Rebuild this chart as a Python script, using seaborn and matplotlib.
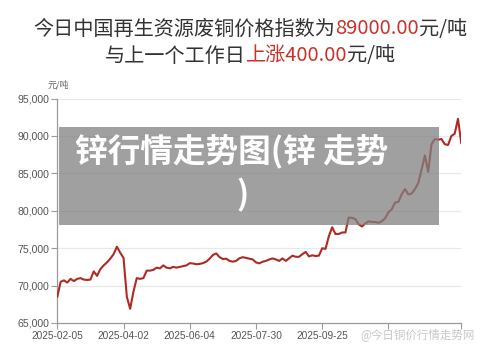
import matplotlib
matplotlib.use("Agg")
import matplotlib.pyplot as plt
import seaborn as sns
import pandas as pd
from matplotlib.patches import Rectangle

# ---- data ----
values = [
    68500, 70500, 70700, 70400, 70900, 70600, 70900, 71000, 70800, 70750,
    70800, 71900, 71300, 72200, 72700, 73100, 73600, 74200, 75200, 74400,
    73700, 68500, 66900, 69200, 71000, 70900, 71000, 72000, 72000, 72100,
    72400, 72300, 72700, 72400, 72300, 72500, 72400, 72500, 72600, 72700,
    73000, 72950, 72850, 72900, 73000, 73200, 73600, 74100, 74300, 73800,
    73550, 73600, 73300, 73200, 73300, 73650, 73800, 73700, 73600, 73500,
    73100, 72970, 73190, 73300, 73500, 73630, 73500, 73300, 73630, 73300,
    73650, 74000, 73850, 73850, 74200, 74500, 73900, 74050, 73950, 74000,
    75000, 74900, 76600, 77800, 76900, 76900, 77100, 77100, 79100, 79050,
    78900, 78200, 77900, 78300, 78600, 78500, 78500, 78400, 78600, 79000,
    79800, 80200, 81100, 81200, 82200, 82900, 82200, 82300, 82900, 83700,
    85500, 87400, 85200, 88900, 89600, 89500, 89600, 88900, 88800, 90000,
    90300, 92300, 89000,
]
tick_index = [0, 20, 40, 60, 80, 100, 122]
tick_labels = ["2025-02-05", "2025-04-02", "2025-06-04", "2025-07-30", "2025-09-25", "", ""]
y_ticks = [65000, 70000, 75000, 80000, 85000, 90000, 95000]

title1_parts = [("今日中国再生资源废铜价格指数为", "#333333"), ("89000.00", "#c8332b"), ("元/吨", "#333333")]
title2_parts = [("与上一个工作日", "#333333"), ("上涨400.00", "#c8332b"), ("元/吨", "#333333")]
overlay_line1 = "锌行情走势图(锌 走势"
overlay_line2 = ")"
unit_label = "元/吨"
watermark = "@今日铜价行情走势网"

sns.set_theme(style="white")
plt.rcParams['font.family'] = ['Liberation Sans', 'Noto Sans CJK SC', 'DejaVu Sans']

df = pd.DataFrame({"idx": list(range(len(values))), "price": values})

fig = plt.figure(figsize=(5.0, 3.52), dpi=100)
fig.patch.set_facecolor("white")
ax = fig.add_axes([0.1146, 0.0824, 0.808, 0.6375])
ax.set_facecolor("white")

for yv in y_ticks[1:]:
    ax.axhline(yv, color="#e8e8e8", lw=0.9, zorder=0)

sns.lineplot(data=df, x="idx", y="price", ax=ax, color="#b02a24", lw=1.5, zorder=3)

ax.set_xlim(0, len(values) - 1)
ax.set_ylim(65000, 95000)
ax.set_yticks(y_ticks)
ax.set_yticklabels([f"{v:,}" for v in y_ticks], fontsize=7.6, color="#555555")
ax.set_xticks(tick_index)
ax.set_xticklabels(tick_labels, fontsize=7.3, color="#555555")
ax.set_xlabel("")
ax.set_ylabel("")
for s in ["top", "right"]:
    ax.spines[s].set_visible(False)
ax.spines["left"].set_color("#9a9a9a")
ax.spines["bottom"].set_color("#9a9a9a")
ax.spines["left"].set_linewidth(0.9)
ax.spines["bottom"].set_linewidth(0.9)
ax.tick_params(axis="both", length=4, width=0.8, color="#9a9a9a", pad=2, direction="out",
               bottom=True, left=True)

# overlay box (figure pixel coords -> fraction)
W, H = 500.0, 352.0
rect = Rectangle((59 / W, 1 - 224.5 / H), (439 - 59) / W, (224.5 - 127) / H,
                 transform=fig.transFigure, facecolor=(0.5, 0.5, 0.5), alpha=0.75,
                 edgecolor="none", zorder=10)
fig.patches.append(rect)
fig.text(75 / W, 1 - 152 / H, overlay_line1, color="white", fontsize=23.5, fontweight="bold",
         family=['Noto Sans CJK SC', 'DejaVu Sans'], ha="left", va="center", zorder=11)
fig.text(242 / W, 1 - 195 / H, overlay_line2, color="white", fontsize=23.5, fontweight="bold",
         family=['Noto Sans CJK SC', 'DejaVu Sans'], ha="center", va="center", zorder=11)

# unit label
fig.text(48 / W, 1 - 85 / H, unit_label, fontsize=6.5, color="#666666",
         family=['Noto Sans CJK SC', 'DejaVu Sans'], ha="left", va="center")

# watermark
fig.text(360 / W, 1 - 335 / H, watermark, fontsize=8.3, color="#c8c8c8",
         family=['Noto Sans CJK SC', 'DejaVu Sans'], ha="left", va="center")

# multi-colored titles
renderer = fig.canvas.get_renderer()

def colored_line(parts, ycen, size):
    texts = []
    for s, c in parts:
        t = fig.text(0, 1 - ycen / H, s, color=c, fontsize=size,
                     family=['Noto Sans CJK SC', 'DejaVu Sans'], ha="left", va="center")
        texts.append(t)
    widths = [t.get_window_extent(renderer).width for t in texts]
    total = sum(widths)
    x = (W - total) / 2
    for t, w in zip(texts, widths):
        t.set_x(x / W)
        x += w

colored_line(title1_parts, 29, 14.5)
colored_line(title2_parts, 56, 14.5)

fig.savefig("out.png", dpi=100, facecolor="white")
